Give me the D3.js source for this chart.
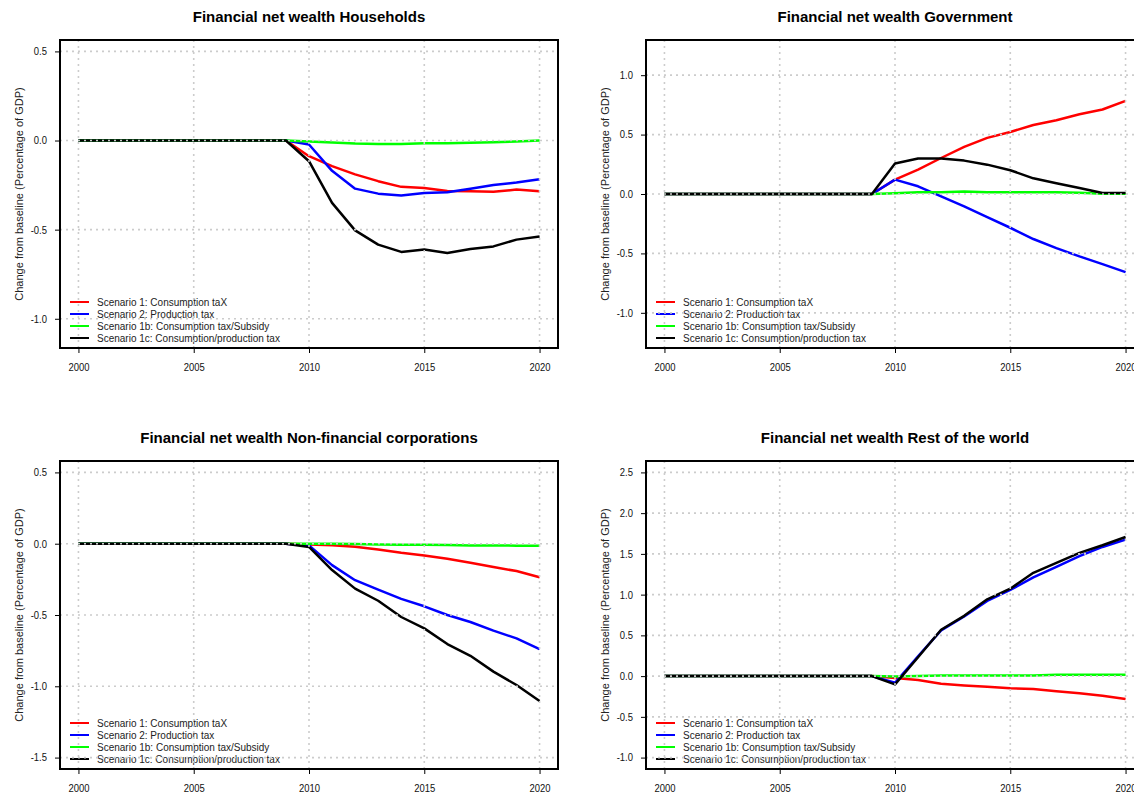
<!DOCTYPE html>
<head>
  <meta charset="utf-8">
  <script src="https://d3js.org/d3.v7.min.js"></script>
  <style>
    body { margin: 0; background: #fff; }
    svg { display: block; font-family: "Liberation Sans", Arial, sans-serif; }
  </style>
</head>

<body>
  <svg width="1134" height="795"></svg>
  <script>
    // data
    var years = [2000, 2001, 2002, 2003, 2004, 2005, 2006, 2007, 2008, 2009, 2010,
                 2011, 2012, 2013, 2014, 2015, 2016, 2017, 2018, 2019, 2020];
    var xTicks = [2000, 2005, 2010, 2015, 2020];

    var seriesNames = ["Scenario 1: Consumption taX", "Scenario 2: Production tax",
                       "Scenario 1b: Consumption tax/Subsidy", "Scenario 1c: Consumption/production tax"];
    var seriesColors = ["#ff0000", "#0000ff", "#00ff00", "#000000"];

    // Households
    var hhS1  = [0,0,0,0,0,0,0,0,0,0, -0.088, -0.144, -0.190, -0.228, -0.260, -0.266, -0.283, -0.285, -0.288, -0.275, -0.285];
    var hhS2  = [0,0,0,0,0,0,0,0,0,0, -0.022, -0.170, -0.270, -0.298, -0.309, -0.294, -0.290, -0.270, -0.250, -0.236, -0.217];
    var hhS1b = [0,0,0,0,0,0,0,0,0,0, -0.006, -0.011, -0.017, -0.020, -0.019, -0.015, -0.015, -0.013, -0.010, -0.006, 0.000];
    var hhS1c = [0,0,0,0,0,0,0,0,0,0, -0.116, -0.350, -0.504, -0.584, -0.625, -0.612, -0.631, -0.609, -0.594, -0.556, -0.539];

    // Government
    var govS1  = [0,0,0,0,0,0,0,0,0,0, 0.121, 0.205, 0.303, 0.396, 0.472, 0.522, 0.581, 0.621, 0.671, 0.711, 0.784];
    var govS2  = [0,0,0,0,0,0,0,0,0,0, 0.121, 0.065, -0.020, -0.104, -0.194, -0.284, -0.379, -0.455, -0.525, -0.590, -0.657];
    var govS1b = [0,0,0,0,0,0,0,0,0,0, 0.006, 0.014, 0.014, 0.020, 0.014, 0.014, 0.014, 0.014, 0.011, 0.003, 0.003];
    var govS1c = [0,0,0,0,0,0,0,0,0,0, 0.256, 0.298, 0.298, 0.281, 0.247, 0.200, 0.132, 0.090, 0.050, 0.008, 0.008];

    // Non-financial corporations
    var nfcS1  = [0,0,0,0,0,0,0,0,0,0, -0.005, -0.010, -0.021, -0.040, -0.063, -0.082, -0.106, -0.134, -0.164, -0.192, -0.235];
    var nfcS2  = [0,0,0,0,0,0,0,0,0,0, -0.012, -0.150, -0.256, -0.322, -0.387, -0.439, -0.500, -0.549, -0.610, -0.664, -0.739];
    var nfcS1b = [0,0,0,0,0,0,0,0,0,0, 0.000, 0.000, -0.002, -0.005, -0.007, -0.007, -0.009, -0.012, -0.012, -0.014, -0.014];
    var nfcS1c = [0,0,0,0,0,0,0,0,0,0, -0.023, -0.185, -0.315, -0.400, -0.514, -0.594, -0.704, -0.786, -0.897, -0.991, -1.103];

    // Rest of the world
    var rowS1  = [0,0,0,0,0,0,0,0,0,0, -0.024, -0.049, -0.093, -0.114, -0.130, -0.150, -0.159, -0.187, -0.211, -0.240, -0.280];
    var rowS2  = [0,0,0,0,0,0,0,0,0,0, -0.081, 0.244, 0.561, 0.732, 0.923, 1.057, 1.211, 1.341, 1.472, 1.585, 1.675];
    var rowS1b = [0,0,0,0,0,0,0,0,0,0, -0.005, 0.000, 0.008, 0.008, 0.008, 0.008, 0.008, 0.016, 0.016, 0.016, 0.016];
    var rowS1c = [0,0,0,0,0,0,0,0,0,0, -0.102, 0.232, 0.569, 0.740, 0.943, 1.073, 1.268, 1.390, 1.512, 1.606, 1.707];

    var panels = [
      { title: "Financial net wealth Households", col: 0, row: 0, ylim: [-1.1, 0.5],
        yTicks: [-1.0, -0.5, 0.0, 0.5], series: [hhS1, hhS2, hhS1b, hhS1c] },
      { title: "Financial net wealth Government", col: 1, row: 0, ylim: [-1.2, 1.2],
        yTicks: [-1.0, -0.5, 0.0, 0.5, 1.0], series: [govS1, govS2, govS1b, govS1c] },
      { title: "Financial net wealth Non-financial corporations", col: 0, row: 1, ylim: [-1.5, 0.5],
        yTicks: [-1.5, -1.0, -0.5, 0.0, 0.5], series: [nfcS1, nfcS2, nfcS1b, nfcS1c] },
      { title: "Financial net wealth Rest of the world", col: 1, row: 1, ylim: [-1.0, 2.5],
        yTicks: [-1.0, -0.5, 0.0, 0.5, 1.0, 1.5, 2.0, 2.5], series: [rowS1, rowS2, rowS1b, rowS1c] }
    ];

    // layout
    var colOffset = [0, 586];
    var rowOffset = [0, 421];
    var box = { left: 60, right: 558, top: 40, bottom: 348 };

    var fmt = d3.formatLocale({ decimal: ".", thousands: ",", grouping: [3], currency: ["", ""], minus: "-" }).format(".1f");

    var svg = d3.select("svg");

    // R style 4% axis extension
    function extend(lim) {
      var d = (lim[1] - lim[0]) * 0.04;
      return [lim[0] - d, lim[1] + d];
    }

    panels.forEach(function(p) {
      var ox = colOffset[p.col], oy = rowOffset[p.row];
      var g = svg.append("g").attr("transform", "translate(" + [ox, oy] + ")");

      var xScale = d3.scaleLinear()
        .domain(extend([2000, 2020]))
        .range([box.left, box.right]);
      var yScale = d3.scaleLinear()
        .domain(extend(p.ylim))
        .range([box.bottom, box.top]);

      // title
      g.append("text")
        .attr("x", (box.left + box.right) / 2)
        .attr("y", 22)
        .attr("text-anchor", "middle")
        .style("font-size", "15px")
        .style("font-weight", "bold")
        .text(p.title);

      // axes
      var xAxis = d3.axisBottom(xScale).tickValues(xTicks).tickFormat(d3.format("d"))
        .tickSize(5).tickPadding(11);
      var yAxis = d3.axisLeft(yScale).tickValues(p.yTicks).tickFormat(fmt)
        .tickSize(5).tickPadding(8);

      var gx = g.append("g").attr("transform", "translate(0," + box.bottom + ")").call(xAxis);
      var gy = g.append("g").attr("transform", "translate(" + box.left + ",0)").call(yAxis);
      [gx, gy].forEach(function(a) {
        a.select(".domain").remove();
        a.selectAll("line").attr("stroke", "#000");
        a.selectAll("text").attr("fill", "#111").style("font-size", "10.5px").style("font-family", null)
          .each(function() {
            // slightly narrower tick digits, as in the reference
            var w = this.getComputedTextLength();
            d3.select(this).attr("textLength", w * 0.9).attr("lengthAdjust", "spacingAndGlyphs");
          });
      });

      // y label
      g.append("text")
        .attr("transform", "translate(19," + (box.top + box.bottom) / 2 + ") rotate(-90)")
        .attr("text-anchor", "middle")
        .attr("dy", "0.35em")
        .style("font-size", "11px")
        .attr("fill", "#222")
        .text("Change from baseline (Percentage of GDP)");

      // lines
      var line = d3.line()
        .x(function(d, i) { return xScale(years[i]); })
        .y(function(d) { return yScale(d); });

      p.series.forEach(function(s, k) {
        g.append("path")
          .datum(s)
          .attr("d", line)
          .attr("fill", "none")
          .attr("stroke", seriesColors[k])
          .attr("stroke-width", 2.5)
          .attr("stroke-linejoin", "round");
      });

      // legend (bottom left, no box)
      var leg = g.append("g");
      seriesNames.forEach(function(name, k) {
        var yy = box.bottom - 10 - 12 * (3 - k);
        leg.append("line")
          .attr("x1", box.left + 10).attr("x2", box.left + 29)
          .attr("y1", yy).attr("y2", yy)
          .attr("stroke", seriesColors[k]).attr("stroke-width", 2);
        leg.append("text")
          .attr("x", box.left + 37)
          .attr("y", yy)
          .attr("dy", "0.35em")
          .style("font-size", "10px")
          .attr("fill", "#222")
          .text(name);
      });

      // grid, drawn on top like R's grid()
      var grid = g.append("g")
        .attr("stroke", "#cccccc")
        .attr("stroke-width", 1.6)
        .attr("stroke-dasharray", "2,4");
      xTicks.forEach(function(t) {
        grid.append("line")
          .attr("x1", xScale(t)).attr("x2", xScale(t))
          .attr("y1", box.top).attr("y2", box.bottom);
      });
      p.yTicks.forEach(function(t) {
        grid.append("line")
          .attr("x1", box.left).attr("x2", box.right)
          .attr("y1", yScale(t)).attr("y2", yScale(t));
      });

      // plot box
      g.append("rect")
        .attr("x", box.left).attr("y", box.top)
        .attr("width", box.right - box.left)
        .attr("height", box.bottom - box.top)
        .attr("fill", "none")
        .attr("stroke", "#000")
        .attr("stroke-width", 2);
    });
  </script>
</body>
